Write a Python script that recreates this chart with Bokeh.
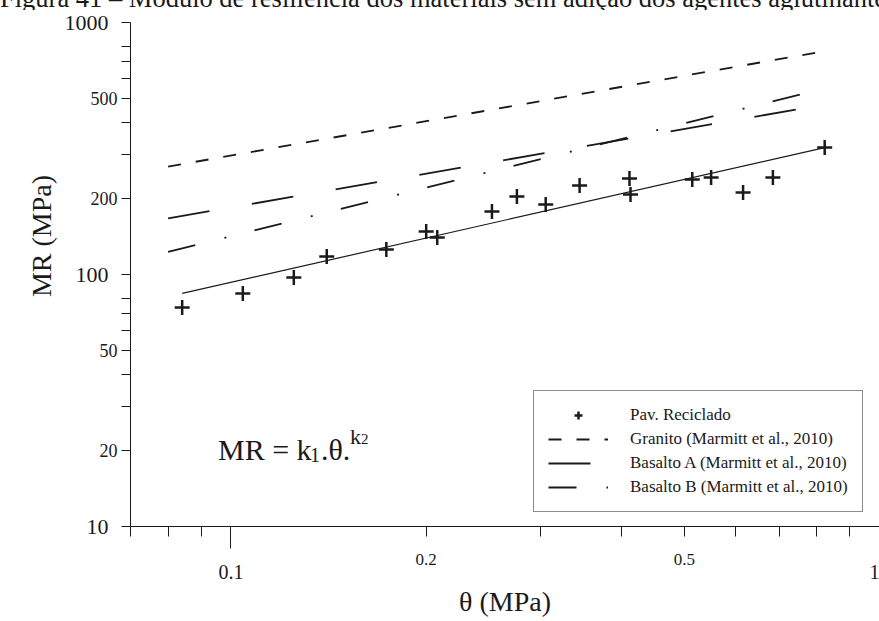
from bokeh.plotting import figure
from bokeh.models import (Range1d, FixedTicker, Label, Legend, LegendItem,
                          NumeralTickFormatter, LogAxis, Div)
from bokeh.layouts import column
from bokeh.embed import file_html
from bokeh.resources import INLINE

# ---- data ----
theta_pts = [0.0841, 0.1043, 0.1250, 0.1405, 0.1736, 0.200, 0.208, 0.2526, 0.2760,
             0.3057, 0.3448, 0.4116, 0.4131, 0.5144, 0.5500, 0.6161, 0.6849, 0.8232]
mr_pts = [74.0, 84.1, 97.3, 117.8, 125.7, 148.1, 140.2, 177.8, 203.9,
          189.6, 225.5, 240.4, 207.7, 238.2, 242.6, 211.6, 242.6, 319.0]

fit_theta = [0.0841, 0.8232]
fit_mr = [84.1, 319.0]
granito_theta = [0.08, 0.80]
granito_mr = [268.0, 760.0]
basaltoA_theta = [0.08, 0.80]
basaltoA_mr = [167.0, 466.0]
basaltoB_theta = [0.08, 0.80]
basaltoB_mr = [123.0, 538.0]

# ticks
x_big_labels = [0.1, 1.0]
x_small_labels = [0.2, 0.5]
x_minor = [0.07, 0.08, 0.09, 0.1, 0.3, 0.4, 0.6, 0.7, 0.8, 0.9, 1.0]
y_big_labels = [10, 100, 1000]
y_small_labels = [20, 50, 200, 500]
y_minor = [10, 30, 40, 60, 70, 80, 100, 300, 400, 600, 700, 800, 1000]

caption = "Figura 41 – Módulo de resiliência dos materiais sem adição dos agentes aglutinantes"

FONT = "Liberation Serif"
INK = "#1a1a1a"

x_start, x_end = 0.07, 1.0
y_start, y_end = 10, 1000

p = figure(width=879, height=611, x_axis_type="log", y_axis_type="log",
           x_range=Range1d(x_start, x_end), y_range=Range1d(y_start, y_end),
           output_backend="svg", toolbar_location=None,
           min_border_left=130, min_border_right=0, min_border_top=12, min_border_bottom=95)
p.outline_line_color = None
p.grid.visible = False
p.background_fill_color = "white"
p.border_fill_color = "white"


def style_axis(ax, size):
    ax.axis_line_color = INK
    ax.major_tick_line_color = INK
    ax.minor_tick_line_color = INK
    ax.major_tick_in = 0
    ax.minor_tick_in = 0
    ax.major_label_text_font = FONT
    ax.major_label_text_color = INK
    ax.major_label_text_font_size = size
    ax.formatter = NumeralTickFormatter(format="0.[0]")
    ax.axis_label_text_font = FONT
    ax.axis_label_text_font_style = "normal"
    ax.axis_label_text_color = INK
    ax.axis_label_text_font_size = "28px"


# ---- x axes: inner one with ticks and small labels, outer one with big labels ----
xa = p.xaxis[0]
style_axis(xa, "17px")
xa.ticker = FixedTicker(ticks=x_small_labels, minor_ticks=x_minor)
xa.major_tick_out = 10
xa.minor_tick_out = 10
xa.major_label_standoff = 17

xa2 = LogAxis(ticker=FixedTicker(ticks=x_big_labels, minor_ticks=[]))
style_axis(xa2, "20px")
xa2.axis_line_color = None
xa2.minor_tick_line_color = None
xa2.major_tick_in = 40
xa2.major_tick_out = -19
xa2.major_label_standoff = -3
xa2.axis_label = "θ (MPa)"
xa2.axis_label_standoff = 4
p.add_layout(xa2, "below")

# ---- y axes: inner one with ticks and small labels, outer one with big labels ----
ya = p.yaxis[0]
style_axis(ya, "18px")
ya.ticker = FixedTicker(ticks=y_small_labels, minor_ticks=y_minor)
ya.major_tick_out = 9
ya.minor_tick_out = 9
ya.major_label_standoff = 4

ya2 = LogAxis(ticker=FixedTicker(ticks=y_big_labels, minor_ticks=[]))
style_axis(ya2, "22px")
ya2.axis_line_color = None
ya2.major_tick_line_color = None
ya2.minor_tick_line_color = None
ya2.major_tick_out = 0
ya2.major_label_standoff = -21
# title sits above the axis centre in the original: pad its start with no-break spaces
ya2.axis_label = "\u00a0" * 11 + "MR (MPa)"
ya2.axis_label_standoff = 5
p.add_layout(ya2, "left")

# ---- series ----
pts = p.scatter(theta_pts, mr_pts, marker="cross", size=15, line_width=2.5, line_color=INK)
p.line(fit_theta, fit_mr, line_color=INK, line_width=1.2)
g = p.line(granito_theta, granito_mr, line_color=INK, line_width=1.8, line_dash="13 15")
a = p.line(basaltoA_theta, basaltoA_mr, line_color=INK, line_width=1.8, line_dash="42 43")
b = p.line(basaltoB_theta, basaltoB_mr, line_color=INK, line_width=1.8, line_dash="28 30 2 29")

legend = Legend(items=[
    LegendItem(label="Pav. Reciclado", renderers=[pts]),
    LegendItem(label="Granito (Marmitt et al., 2010)", renderers=[g]),
    LegendItem(label="Basalto A (Marmitt et al., 2010)", renderers=[a]),
    LegendItem(label="Basalto B (Marmitt et al., 2010)", renderers=[b]),
], location=(403, 14), border_line_color=INK, border_line_width=1,
    background_fill_color="white", background_fill_alpha=1.0,
    padding=14, spacing=4, glyph_width=60, glyph_height=20, label_height=20,
    label_standoff=22, label_text_font=FONT, label_text_font_size="17px",
    label_text_color=INK, margin=0)
p.add_layout(legend, "center")

# ---- equation MR = k1.θ.k2 ----
eq_x, eq_y = 0.0955, 20.3
eq_parts = [("MR = k", 0, 0, "30px"), ("1", 92, -6, "20px"), (".θ.", 103, 0, "30px"),
            ("k", 132, 13, "22px"), ("2", 143, 10, "15px")]
for txt, dx, dy, fs in eq_parts:
    p.add_layout(Label(x=eq_x, y=eq_y, x_offset=dx, y_offset=dy, text=txt,
                       text_align="left", text_baseline="alphabetic",
                       text_font=FONT, text_font_size=fs, text_color=INK))

# ---- caption strip (cut off at the top, as in the scan) ----
cap = Div(text=('<div style="position:relative;top:-15px;font-family:\'Liberation Serif\';'
                'font-size:26.5px;line-height:26px;white-space:nowrap;color:#1a1a1a;">'
                + caption + '</div>'),
          width=879, height=10, margin=0, styles={"overflow": "hidden"})

root = column(cap, p, spacing=0)
open("out.html", "w").write(file_html(root, INLINE))
